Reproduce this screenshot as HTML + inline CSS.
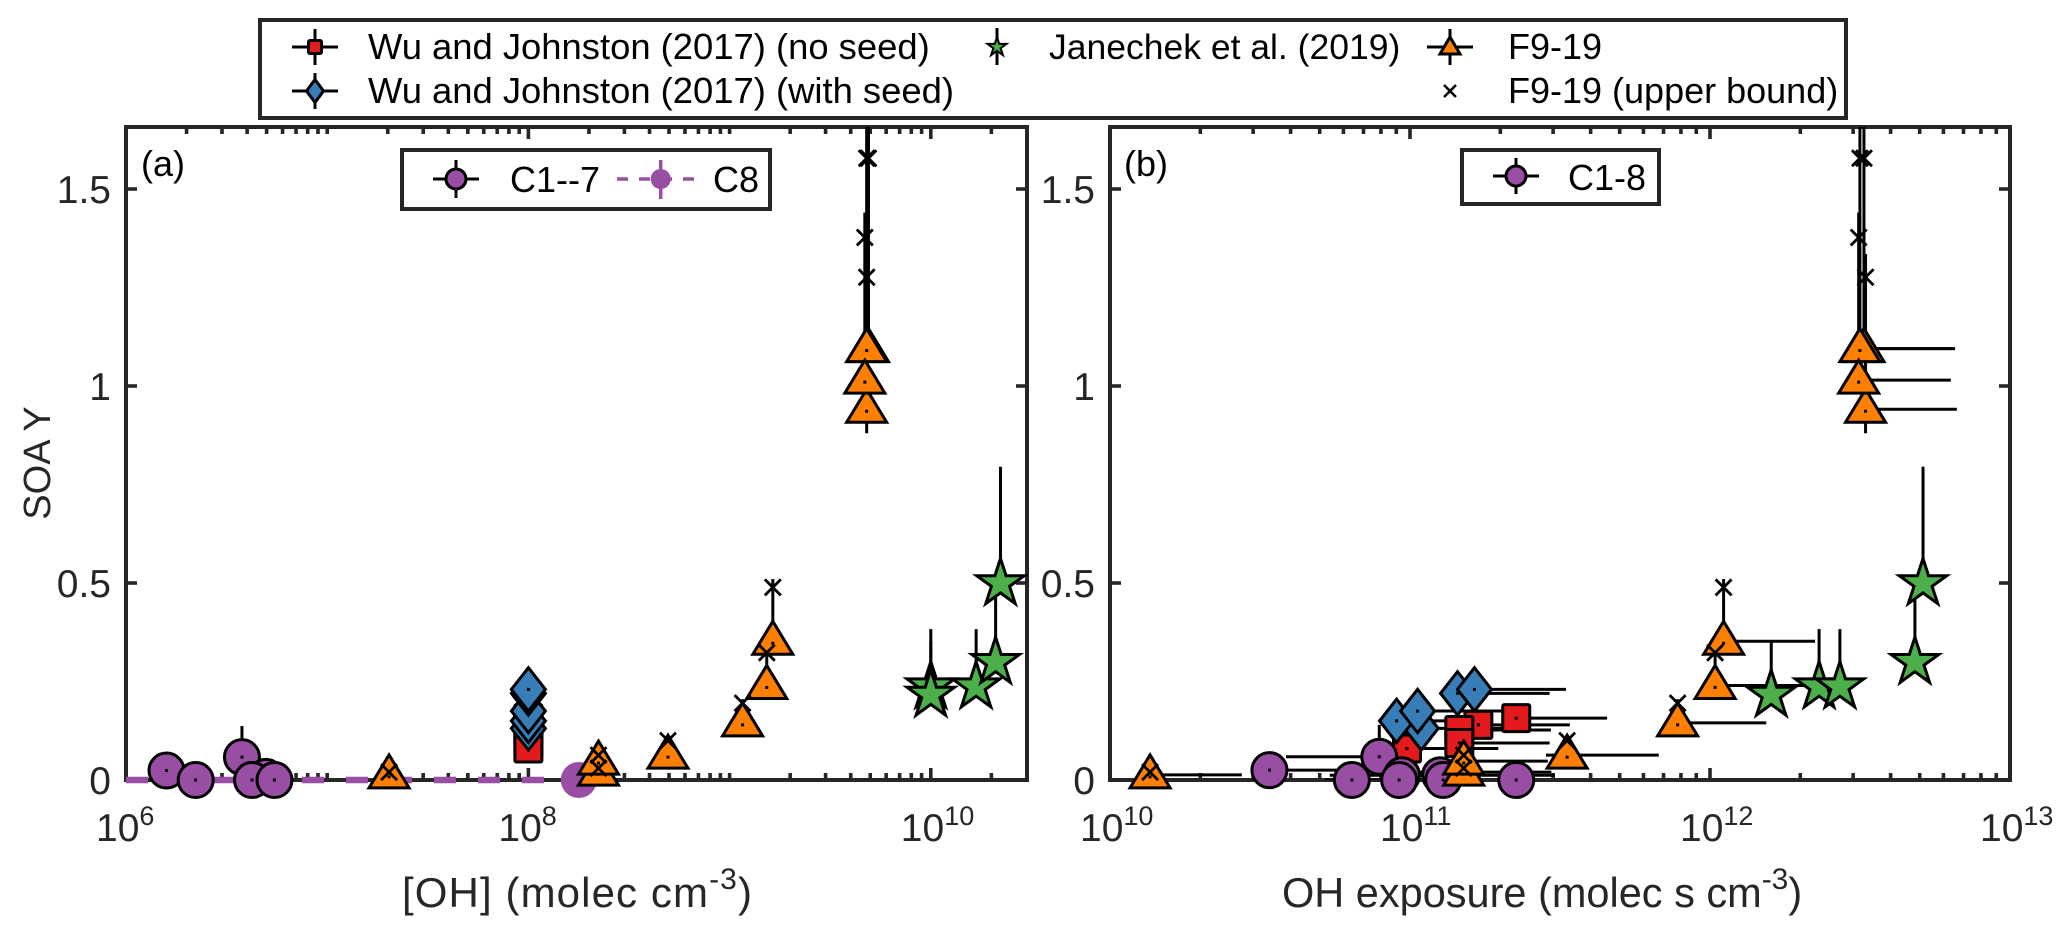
<!DOCTYPE html>
<html>
<head>
<meta charset="utf-8">
<style>
html,body{margin:0;padding:0;background:#fff;}
svg{display:block;}
text{font-family:"Liberation Sans",sans-serif;}
</style>
</head>
<body>
<svg id="chart" xmlns="http://www.w3.org/2000/svg" width="2067" height="928" viewBox="0 0 2067 928">
  <rect x="0" y="0" width="2067" height="928" fill="#fff"/>
  <defs>
    <clipPath id="clipA"><rect x="126" y="127" width="901" height="653"/></clipPath>
    <clipPath id="clipB"><rect x="1110" y="127" width="900" height="653"/></clipPath>
  </defs>
  <g id="layerAxes"></g>
  <g id="layerData"></g>
  <text x="141" y="176" font-size="36" fill="#000">(a)</text>
  <text x="1124" y="176" font-size="36" fill="#000">(b)</text>
  <text x="0" y="0" transform="translate(50,463) rotate(-90)" text-anchor="middle" font-size="38" fill="#262626">SOA Y</text>
  <text x="402" y="907" font-size="42" letter-spacing="1.1" fill="#262626">[OH] (molec cm<tspan dy="-18" font-size="30">-3</tspan><tspan dy="18">)</tspan></text>
  <text x="1282" y="907" font-size="41.5" fill="#262626">OH exposure (molec s cm<tspan dy="-18" font-size="30">-3</tspan><tspan dy="18">)</tspan></text>

  <g>
    <rect x="260" y="20" width="1586" height="98" fill="#fff" stroke="#262626" stroke-width="4"/>
    <g id="legendMarkers"></g>
    <text x="368" y="59" font-size="36.4" fill="#000">Wu and Johnston (2017) (no seed)</text>
    <text x="368" y="103" font-size="36.4" fill="#000">Wu and Johnston (2017) (with seed)</text>
    <text x="1049" y="59" font-size="35.5" fill="#000">Janechek et al. (2019)</text>
    <text x="1508" y="59" font-size="36" fill="#000">F9-19</text>
    <text x="1508" y="103" font-size="36" fill="#000">F9-19 (upper bound)</text>
  </g>
  <g>
    <rect x="402" y="150" width="368" height="59" fill="#fff" stroke="#262626" stroke-width="4"/>
    <g id="legendA"></g>
    <text x="510" y="192" font-size="36" fill="#000">C1--7</text>
    <text x="713" y="192" font-size="36" fill="#000">C8</text>
  </g>
  <g>
    <rect x="1462" y="150" width="197" height="54" fill="#fff" stroke="#262626" stroke-width="4"/>
    <g id="legendB"></g>
    <text x="1568" y="190" font-size="36" fill="#000">C1-8</text>
  </g>
</svg>
<script>
// ---------- axis tick data ----------
var yTickValues = [0, 0.5, 1, 1.5];
var yTickLabels = ['0', '0.5', '1', '1.5'];
var xTickExponentsA = [6, 8, 10];
var xTickExponentsB = [10, 11, 12, 13];

// ---------- Wu and Johnston (no seed) ----------
var redY = [0.157, 0.14, 0.127, 0.094, 0.08];
var redOH = [1e8, 1e8, 1e8, 1e8, 1e8];
var redExposure = [2.26e11, 1.69e11, 1.46e11, 1.46e11, 9.77e10];
var redExposureHigh = [4.54e11, 3.41e11, 2.95e11, 2.92e11, 1.97e11];

// ---------- Wu and Johnston (with seed) ----------
var blueY = [0.131, 0.15, 0.175, 0.22, 0.23];
var blueOH = [1e8, 1e8, 1e8, 1e8, 1e8];
var blueExposure = [1.09e11, 9.02e10, 1.06e11, 1.44e11, 1.64e11];
var blueExposureHigh = [2.2e11, 1.82e11, 2.15e11, 2.92e11, 3.31e11];

// ---------- C1-7 / C8 ----------
var purpleOH = [1.59e6, 2.22e6, 3.77e6, 4.96e6, 4.23e6, 5.47e6];
var purpleOHY = [0.024, 0, 0.058, 0.008, 0, 0];
var purpleOHTop = [0.03, 0, 0.137, 0.01, 0, 0];
var c8OH = [1.78e8];
var c8Y = [0];
var purpleExposure = [3.4e10, 7.9e10, 9.4e10, 1.26e11, 6.4e10, 9.2e10, 1.29e11, 2.26e11];
var purpleExposureY = [0.025, 0.059, 0.012, 0.012, 0, 0, 0, 0];
var purpleExposureLow = [3.4e10, 3.86e10, 9.4e10, 5.4e10, 5.2e10, 9.2e10, 1.29e11, 2.26e11];
var purpleExposureHigh = [5.7e10, 7.9e10, 9.4e10, 3.04e11, 9e10, 9.2e10, 1.29e11, 2.26e11];
var purpleExposureTop = [0.025, 0.14, 0.012, 0.012, 0, 0, 0, 0];

// ---------- F9-19 ----------
var triY = [0.013, 0.02, 0.048, 0.063, 0.145, 0.24, 0.352, 0.941, 1.095, 1.095, 1.015];
var triOH = [2.03e7, 2.23e8, 2.23e8, 4.94e8, 1.16e9, 1.53e9, 1.64e9, 4.8e9, 4.9e9, 4.8e9, 4.7e9];
var triExposure = [1.36e10, 1.51e11, 1.51e11, 3.34e11, 7.8e11, 1.04e12, 1.11e12, 3.3e12, 3.26e12, 3.16e12, 3.13e12];
var triExposureLow = [1.36e10, 1.03e11, 1.45e11, 2.84e11, 7.8e11, 1.04e12, 1.11e12, 3.3e12, 3.26e12, 3.16e12, 3.13e12];
var triExposureHigh = [2.75e10, 2.96e11, 2.88e11, 6.75e11, 1.54e12, 2.09e12, 2.24e12, 6.65e12, 6.39e12, 6.56e12, 6.35e12];
var triUpperBound = [0.02, 0.03, 0.063, 0.1, 0.195, 0.323, 0.489, 1.276, 1.578, 1.578, 1.377];
var triErrTop = [0.03, 0.04, 0.08, 0.11, 0.205, 0.335, 0.51, 1.335, 2, 2, 1.44];
var triErrBottom = [0.013, 0.02, 0.048, 0.063, 0.145, 0.24, 0.352, 0.88, 1.095, 1.095, 1.015];

// ---------- Janechek et al. ----------
var starY = [0.237, 0.216, 0.237, 0.299, 0.499];
var starOH = [1e10, 1e10, 1.68e10, 2.1e10, 2.22e10];
var starExposure = [2.31e12, 1.6e12, 2.71e12, 4.82e12, 5.13e12];
var starErrTop = [0.383, 0.352, 0.383, 0.465, 0.795];

// ---------- scales ----------
function xA(v){ return 126 + 201.2 * (Math.log10(v) - 6); }
function xB(v){ return 1110 + 300 * (Math.log10(v) - 10); }
function yS(v){ return 780 - 394 * v; }

var NS = 'http://www.w3.org/2000/svg';
var PURPLE = '#984EA3', ORANGE = '#FF7F00', GREEN = '#4DAF4A', BLUE = '#377EB8', RED = '#E41A1C', INK = '#262626';

function mk(tag, attrs, parent){
  var el = document.createElementNS(NS, tag);
  for (var k in attrs) el.setAttribute(k, attrs[k]);
  parent.appendChild(el);
  return el;
}
function seg(parent, x1, y1, x2, y2, w, color, name){
  var el = mk('line', {x1:x1, y1:y1, x2:x2, y2:y2, stroke:color, 'stroke-width':w}, parent);
  
  
  return el;
}
function starPts(cx, cy, R){
  var p = [];
  for (var i = 0; i < 10; i++){
    var r = i % 2 ? R * 0.382 : R;
    var a = -Math.PI / 2 + i * Math.PI / 5;
    p.push((cx + r * Math.cos(a)).toFixed(1) + ',' + (cy + r * Math.sin(a)).toFixed(1));
  }
  return p.join(' ');
}
function drawCircle(parent, cx, cy, r, fill, stroke, name){
  var el = mk('circle', {cx:cx, cy:cy, r:r, fill:fill, stroke:stroke, 'stroke-width':3}, parent);
  
  
  return el;
}
function drawSquare(parent, cx, cy, h, name){
  var el = mk('rect', {x:cx-h, y:cy-h, width:2*h, height:2*h, rx:1.5, fill:RED, stroke:'#000', 'stroke-width':3}, parent);
  
  
  return el;
}
function drawDiamond(parent, cx, cy, hw, hh, name){
  var pts = cx+','+(cy-hh)+' '+(cx+hw)+','+cy+' '+cx+','+(cy+hh)+' '+(cx-hw)+','+cy;
  var el = mk('polygon', {points:pts, fill:BLUE, stroke:'#000', 'stroke-width':3}, parent);
  
  
  return el;
}
function drawTriangle(parent, cx, cy, hw, up, down, name){
  var pts = cx+','+(cy-up)+' '+(cx+hw)+','+(cy+down)+' '+(cx-hw)+','+(cy+down);
  var el = mk('polygon', {points:pts, fill:ORANGE, stroke:'#000', 'stroke-width':3}, parent);
  
  
  return el;
}
function drawStar(parent, cx, cy, R, sw, name){
  var el = mk('polygon', {points:starPts(cx, cy, R), fill:GREEN, stroke:'#000', 'stroke-width':sw}, parent);
  
  
  return el;
}
function drawCross(parent, cx, cy, s, w, name){
  var g = mk('g', {}, parent);
  
  
  mk('path', {d:'M'+(cx-s)+' '+(cy-s)+'L'+(cx+s)+' '+(cy+s)+'M'+(cx+s)+' '+(cy-s)+'L'+(cx-s)+' '+(cy+s), stroke:'#000', 'stroke-width':w, fill:'none'}, g);
  return g;
}
function drawDot(parent, cx, cy){
  var el = mk('rect', {x:cx-1.5, y:cy-1.5, width:3, height:3, fill:'#000'}, parent);
  
  
}

// ---------- axes ----------
var axesLayer = document.getElementById('layerAxes');
function drawAxes(id, left, right, scale, loExp, hiExp, majors, yLabelRight){
  var top = 127, bottom = 780;
  var g = mk('g', {}, axesLayer);
  
  
  var box = mk('rect', {x:left, y:top, width:right-left, height:bottom-top, fill:'none', stroke:INK, 'stroke-width':4}, g);
  
  
  for (var e = loExp; e <= hiExp; e++){
    for (var m = 1; m < 10; m++){
      var v = m * Math.pow(10, e);
      var px = scale(v);
      if (px > right - 1) continue;
      var isMajor = m === 1 && majors.indexOf(e) >= 0;
      var len = isMajor ? 12 : 7;
      if (px <= left + 1) continue;
      seg(g, px, bottom, px, bottom - len, 3.6, INK, id + '-x-tick-bottom');
      seg(g, px, top, px, top + len, 3.6, INK, id + '-x-tick-top');
    }
  }
  yTickValues.forEach(function(val, i){
    var py = yS(val);
    if (val > 0){
      seg(g, left, py, left + 11, py, 3.6, INK, id + '-y-tick-left');
      seg(g, right, py, right - 11, py, 3.6, INK, id + '-y-tick-right');
    }
    var t = mk('text', {x:yLabelRight, y:py + 14, 'text-anchor':'end', 'font-size':39, fill:INK}, g);
    
    
    t.textContent = yTickLabels[i];
  });
  majors.forEach(function(exp){
    var cx = scale(Math.pow(10, exp));
    var t = mk('text', {x:cx - 30, y:841, 'font-size':39, fill:INK}, g);
    
    
    t.textContent = '10';
    var s = mk('tspan', {dy:-16, 'font-size':27}, t);
    s.textContent = String(exp);
  });
}
drawAxes('panel-a', 126, 1027, xA, 6, 10, xTickExponentsA, 111);
drawAxes('panel-b', 1110, 2010, xB, 10, 13, xTickExponentsB, 1095);

// ---------- panel A ----------
var dataLayer = document.getElementById('layerData');
var gA = mk('g', {}, dataLayer);


var clipAg = mk('g', {'clip-path':'url(#clipA)'}, gA);



var dash = mk('line', {x1:xA(1e6), y1:yS(c8Y[0]), x2:xA(c8OH[0]), y2:yS(c8Y[0]), stroke:PURPLE, 'stroke-width':6.5, 'stroke-dasharray':'22 22'}, gA);



purpleOH.forEach(function(v, i){
  if (purpleOHTop[i] > purpleOHY[i]) seg(clipAg, xA(v), yS(purpleOHY[i]), xA(v), yS(purpleOHTop[i]), 3, '#000', 'c1-7-error-bar');
});
drawCircle(gA, xA(c8OH[0]), yS(c8Y[0]), 18, PURPLE, 'none', 'c8-point');
purpleOH.forEach(function(v, i){
  drawCircle(gA, xA(v), yS(purpleOHY[i]), 17.5, PURPLE, '#000', 'c1-7-point');
  drawDot(gA, xA(v), yS(purpleOHY[i]));
});
redOH.forEach(function(v, i){
  drawSquare(gA, xA(v), yS(redY[i]), 13.5, 'no-seed-point-a');
  drawDot(gA, xA(v), yS(redY[i]));
});
blueOH.forEach(function(v, i){
  drawDiamond(gA, xA(v), yS(blueY[i]), 17, 21.7, 'with-seed-point-a');
  drawDot(gA, xA(v), yS(blueY[i]));
});
triOH.forEach(function(v, i){
  seg(clipAg, xA(v), yS(triErrBottom[i]), xA(v), yS(triErrTop[i]), 3, '#000', 'f9-19-error-bar-a');
});
triOH.forEach(function(v, i){
  drawTriangle(gA, xA(v), yS(triY[i]), 20, 20, 13, 'f9-19-point-a');
  drawDot(gA, xA(v), yS(triY[i]) + 2);
});
triOH.forEach(function(v, i){
  drawCross(gA, xA(v), yS(triUpperBound[i]), 8, 2.8, 'f9-19-upper-bound-a');
});
starOH.forEach(function(v, i){
  seg(clipAg, xA(v), yS(starY[i]), xA(v), yS(starErrTop[i]), 3, '#000', 'janechek-error-bar-a');
});
starOH.forEach(function(v, i){
  drawStar(gA, xA(v), yS(starY[i]), 25, 3, 'janechek-point-a');
});

// ---------- panel B ----------
var gB = mk('g', {}, dataLayer);


var clipBg = mk('g', {'clip-path':'url(#clipB)'}, gB);



redExposure.forEach(function(v, i){
  seg(clipBg, xB(v), yS(redY[i]), xB(redExposureHigh[i]), yS(redY[i]), 3, '#000', 'no-seed-error-bar-b');
});
blueExposure.forEach(function(v, i){
  seg(clipBg, xB(v), yS(blueY[i]), xB(blueExposureHigh[i]), yS(blueY[i]), 3, '#000', 'with-seed-error-bar-b');
});
purpleExposure.forEach(function(v, i){
  seg(clipBg, xB(purpleExposureLow[i]), yS(purpleExposureY[i]), xB(purpleExposureHigh[i]), yS(purpleExposureY[i]), 3, '#000', 'c1-8-error-bar-x');
  if (purpleExposureTop[i] > purpleExposureY[i]) seg(clipBg, xB(v), yS(purpleExposureY[i]), xB(v), yS(purpleExposureTop[i]), 3, '#000', 'c1-8-error-bar-y');
});
triExposure.forEach(function(v, i){
  seg(clipBg, xB(triExposureLow[i]), yS(triY[i]), xB(triExposureHigh[i]), yS(triY[i]), 3, '#000', 'f9-19-error-bar-x');
  seg(clipBg, xB(v), yS(triErrBottom[i]), xB(v), yS(triErrTop[i]), 3, '#000', 'f9-19-error-bar-y');
});
starExposure.forEach(function(v, i){
  seg(clipBg, xB(v), yS(starY[i]), xB(v), yS(starErrTop[i]), 3, '#000', 'janechek-error-bar-b');
});
redExposure.forEach(function(v, i){
  drawSquare(gB, xB(v), yS(redY[i]), 13.5, 'no-seed-point-b');
  drawDot(gB, xB(v), yS(redY[i]));
});
blueExposure.forEach(function(v, i){
  drawDiamond(gB, xB(v), yS(blueY[i]), 17, 21.7, 'with-seed-point-b');
  drawDot(gB, xB(v), yS(blueY[i]));
});
purpleExposure.forEach(function(v, i){
  drawCircle(gB, xB(v), yS(purpleExposureY[i]), 17.5, PURPLE, '#000', 'c1-8-point');
  drawDot(gB, xB(v), yS(purpleExposureY[i]));
});
triExposure.forEach(function(v, i){
  drawTriangle(gB, xB(v), yS(triY[i]), 20, 20, 13, 'f9-19-point-b');
  drawDot(gB, xB(v), yS(triY[i]) + 2);
});
triExposure.forEach(function(v, i){
  drawCross(gB, xB(v), yS(triUpperBound[i]), 8, 2.8, 'f9-19-upper-bound-b');
});
starExposure.forEach(function(v, i){
  drawStar(gB, xB(v), yS(starY[i]), 25, 3, 'janechek-point-b');
});

// ---------- legend keys ----------
function keyBars(parent, cx, cy, hw, hh, color, w, name){
  seg(parent, cx - hw, cy, cx + hw, cy, w, color, name + '-h');
  seg(parent, cx, cy - hh, cx, cy + hh, w, color, name + '-v');
}
var lg = document.getElementById('legendMarkers');
keyBars(lg, 315, 47, 23, 18, '#000', 3, 'legend-key-no-seed-bars');
drawSquare(lg, 315, 47, 6.5, 'legend-key-no-seed');
keyBars(lg, 315, 91, 23, 18, '#000', 3, 'legend-key-with-seed-bars');
drawDiamond(lg, 315, 91, 8.5, 11.5, 'legend-key-with-seed');
seg(lg, 997, 28, 997, 65, 3, '#000', 'legend-key-janechek-bar');
drawStar(lg, 997, 47, 10, 2, 'legend-key-janechek');
keyBars(lg, 1450, 47, 23, 18, '#000', 3, 'legend-key-f9-19-bars');
drawTriangle(lg, 1450, 47, 10, 10, 7, 'legend-key-f9-19');
drawCross(lg, 1450, 91, 6, 2.5, 'legend-key-upper-bound');

var la = document.getElementById('legendA');
keyBars(la, 456, 179, 23, 19, '#000', 3, 'legend-key-c1-7-bars');
drawCircle(la, 456, 179, 10, PURPLE, '#000', 'legend-key-c1-7');
var dk = mk('line', {x1:617, y1:179, x2:695, y2:179, stroke:PURPLE, 'stroke-width':3.5, 'stroke-dasharray':'11 11'}, la);


seg(la, 660.7, 160, 660.7, 199, 3.5, PURPLE, 'legend-key-c8-bar');
drawCircle(la, 660.7, 179, 10, PURPLE, 'none', 'legend-key-c8');

var lb = document.getElementById('legendB');
keyBars(lb, 1516, 176, 23, 18, '#000', 3, 'legend-key-c1-8-bars');
drawCircle(lb, 1516, 176, 10, PURPLE, '#000', 'legend-key-c1-8');
</script>
</body>
</html>
